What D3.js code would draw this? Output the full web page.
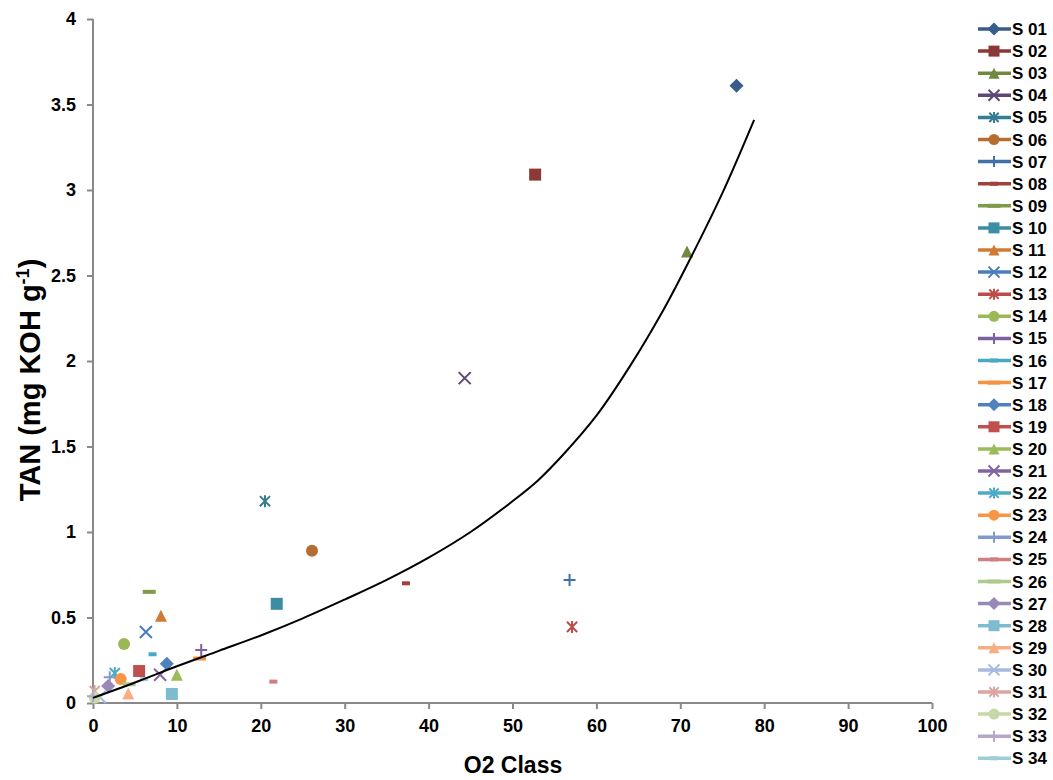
<!DOCTYPE html>
<html>
<head>
<meta charset="utf-8">
<script src="https://cdn.jsdelivr.net/npm/d3@7"></script>
<style>
  html, body { margin: 0; padding: 0; background: #fff; }
  svg { display: block; }
  text { font-family: "Liberation Sans", Arial, sans-serif; font-weight: bold; fill: #000; }
</style>
</head>
<body>
<svg id="chart" width="1053" height="780"></svg>
<script>
// ---- data ----
const seriesNames = ["S 01","S 02","S 03","S 04","S 05","S 06","S 07","S 08","S 09","S 10",
  "S 11","S 12","S 13","S 14","S 15","S 16","S 17","S 18","S 19","S 20",
  "S 21","S 22","S 23","S 24","S 25","S 26","S 27","S 28","S 29","S 30",
  "S 31","S 32","S 33","S 34"];
const xValues = [76.7, 52.7, 70.8, 44.3, 20.5, 26.1, 56.8, 37.3, 6.7, 21.9,
  8.1, 6.3, 57.1, 3.7, 12.9, 7.1, 12.7, 8.8, 5.5, 10.0,
  8.0, 2.6, 3.3, 2.0, 21.5, 4.3, 1.8, 9.4, 4.2, 0.8,
  0.2, 0.2, 0.0, 6.1];
const yValues = [3.61, 3.09, 2.64, 1.90, 1.18, 0.89, 0.72, 0.70, 0.65, 0.58,
  0.51, 0.415, 0.445, 0.345, 0.31, 0.285, 0.26, 0.23, 0.187, 0.165,
  0.165, 0.175, 0.14, 0.15, 0.125, 0.11, 0.10, 0.053, 0.055, 0.035,
  0.07, 0.03, 0.04, 0.14];
const markerTypes = ["diamond","square","triangle","x","star","circle","plus","dash","longdash","square",
  "triangle","x","star","circle","plus","dash","longdash","diamond","square","triangle",
  "x","star","circle","plus","dash","longdash","diamond","square","triangle","x",
  "star","circle","plus","dash"];
const colors = ["#385D8A","#8C3836","#71893F","#5C4776","#357D91","#B66D31","#4170A8","#A33F3C","#7F9A48","#3C8DA3",
  "#CF7B34","#4A7EBB","#BE4B48","#98B954","#7D60A0","#46AAC5","#F69240","#4F81BD","#C0504D","#9BBB59",
  "#8064A2","#4BACC6","#F79646","#819ACB","#CF7F7D","#B0CA8C","#9A88B8","#7DBCD0","#F8AE85","#A7B9E0",
  "#D9A6A4","#C5D8A5","#B4A7CA","#9DCDDB"];
// trendline
const trendX = [0, 5, 10, 15, 20, 25, 30, 35, 40, 45, 50, 53, 56, 60, 64, 68, 71, 75, 78.8];
const trendY = [0.03, 0.12, 0.215, 0.305, 0.395, 0.495, 0.605, 0.72, 0.85, 1.00, 1.18, 1.30, 1.45, 1.68, 1.97, 2.30, 2.58, 2.98, 3.41];
const xTicks = [0,10,20,30,40,50,60,70,80,90,100];
const yTicks = [0,0.5,1,1.5,2,2.5,3,3.5,4];

// ---- layout ----
const svg = d3.select("#chart");
const x = d3.scaleLinear().domain([0,100]).range([93, 932]);
const y = d3.scaleLinear().domain([0,4]).range([703, 19]);
const axisColor = "#898989";

// axes
const xAxis = svg.append("g").attr("transform", "translate(0,703)")
  .call(d3.axisBottom(x).tickValues(xTicks).tickSize(6).tickPadding(10).tickFormat(d3.format("d")));
const yAxis = svg.append("g").attr("transform", "translate(93,0)")
  .call(d3.axisLeft(y).tickValues(yTicks).tickSize(6).tickPadding(11).tickFormat(d => String(d)));
[xAxis, yAxis].forEach(g => {
  g.select(".domain").attr("stroke", axisColor).attr("stroke-width", 2);
  g.selectAll(".tick line").attr("stroke", axisColor).attr("stroke-width", 2);
  g.selectAll(".tick text").attr("font-family", "Liberation Sans, Arial, sans-serif")
    .attr("font-weight", "bold").attr("font-size", 18).attr("fill", "#000");
});
xAxis.select(".domain").attr("d", "M93,0H932");
yAxis.select(".domain").attr("d", "M0,19V703");

// axis titles
svg.append("text").attr("x", 513).attr("y", 773).attr("text-anchor", "middle")
  .attr("font-size", 23).text("O2 Class");
const yt = svg.append("text").attr("transform", "translate(40,380) rotate(-90)")
  .attr("text-anchor", "middle").attr("font-size", 29);
yt.append("tspan").text("TAN (mg KOH g");
yt.append("tspan").attr("dy", -11).attr("font-size", 18).text("-1");
yt.append("tspan").attr("dy", 11).text(")");

// marker drawing
function drawMarker(g, type, color, s) {
  const h = s / 2;
  switch (type) {
    case "diamond":
      g.append("path").attr("d", `M0,${-h-1}L${h+1},0L0,${h+1}L${-h-1},0Z`).attr("fill", color); break;
    case "square":
      g.append("rect").attr("x", -h).attr("y", -h).attr("width", s).attr("height", s).attr("fill", color); break;
    case "triangle":
      g.append("path").attr("d", `M0,${-h}L${h},${h}L${-h},${h}Z`).attr("fill", color); break;
    case "circle":
      g.append("circle").attr("r", h).attr("fill", color); break;
    case "x":
      g.append("path").attr("d", `M${-h},${-h}L${h},${h}M${-h},${h}L${h},${-h}`)
        .attr("stroke", color).attr("stroke-width", 2).attr("fill", "none"); break;
    case "star":
      g.append("path").attr("d", `M${-h*0.85},${-h*0.85}L${h*0.85},${h*0.85}M${-h*0.85},${h*0.85}L${h*0.85},${-h*0.85}M0,${-h}L0,${h}`)
        .attr("stroke", color).attr("stroke-width", 2).attr("fill", "none"); break;
    case "plus":
      g.append("path").attr("d", `M${-h},0L${h},0M0,${-h}L0,${h}`)
        .attr("stroke", color).attr("stroke-width", 2).attr("fill", "none"); break;
    case "dash":
      g.append("rect").attr("x", -4).attr("y", -2).attr("width", 8).attr("height", 4).attr("fill", color); break;
    case "longdash":
      g.append("rect").attr("x", -6.5).attr("y", -2).attr("width", 13).attr("height", 4).attr("fill", color); break;
  }
}

// points
const pts = svg.append("g");
seriesNames.forEach((n, i) => {
  const g = pts.append("g").attr("transform", `translate(${x(xValues[i])},${y(yValues[i])})`);
  drawMarker(g, markerTypes[i], colors[i], 12);
});

// trendline
const trend = trendX.map((d, i) => [d, trendY[i]]);
svg.append("path").datum(trend)
  .attr("d", d3.line().x(d => x(d[0])).y(d => y(d[1])).curve(d3.curveCatmullRom))
  .attr("fill", "none").attr("stroke", "#000").attr("stroke-width", 2);

// legend
const leg = svg.append("g");
seriesNames.forEach((n, i) => {
  const cy = 29 + i * 22.1;
  const g = leg.append("g").attr("transform", `translate(0,${cy})`);
  g.append("line").attr("x1", 978).attr("x2", 1011).attr("y1", 0).attr("y2", 0)
    .attr("stroke", colors[i]).attr("stroke-width", 3.5);
  const m = g.append("g").attr("transform", "translate(994,0)");
  drawMarker(m, markerTypes[i], colors[i], 11);
  g.append("text").attr("x", 1012).attr("y", 6).attr("font-size", 17).text(n);
});
</script>
</body>
</html>
